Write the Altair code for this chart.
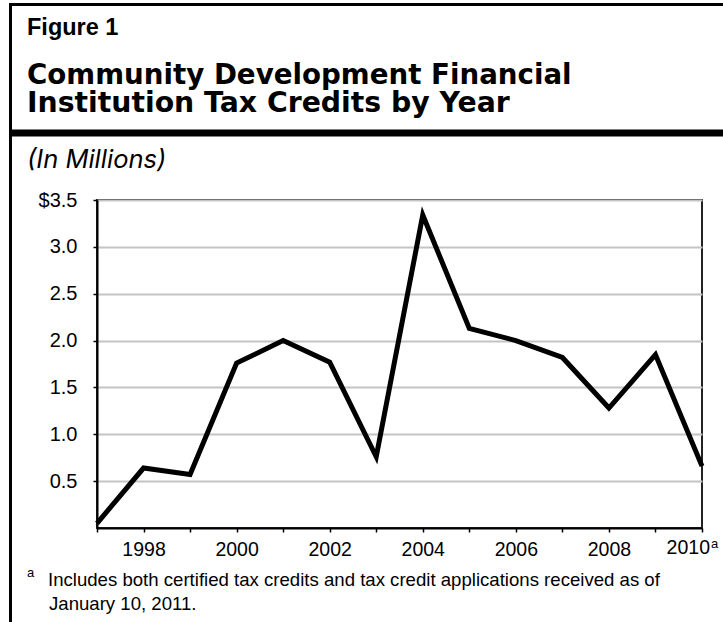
import altair as alt
import pandas as pd

years = [1997, 1998, 1999, 2000, 2001, 2002, 2003, 2004, 2005, 2006, 2007, 2008, 2009, 2010]
credits = [0.05, 0.64, 0.57, 1.76, 2.00, 1.77, 0.76, 3.34, 2.13, 2.00, 1.82, 1.28, 1.85, 0.66]
y_ticks = [0.5, 1.0, 1.5, 2.0, 2.5, 3.0, 3.5]
x_ticks = years
last_year_label = "2010"

fig_label = "Figure 1"
title_lines = ["Community Development Financial", "Institution Tax Credits by Year"]
units = "(In Millions)"
footnote_lines = ["Includes both certified tax credits and tax credit applications received as of",
                  "January 10, 2011."]

FONT = "Liberation Sans"
TFONT = "DejaVu Sans"
UFONT = "Inter"
W, H = 605, 328
PL, PT = 97, 200

df = pd.DataFrame({"year": years, "credits": credits})
one = pd.DataFrame({"k": [0]})

xscale = alt.Scale(domain=[1997, 2010], nice=False, zero=False)
yscale = alt.Scale(domain=[0, 3.5], nice=False)

line = alt.Chart(df).mark_line(
    color="black", strokeWidth=5, strokeJoin="miter", strokeCap="butt", clip=False
).encode(
    x=alt.X("year:Q", scale=xscale, axis=alt.Axis(
        values=x_ticks, title=None, grid=False, tickSize=4, tickWidth=1.5, tickColor="black",
        domainColor="black", domainWidth=2,
        labelExpr="(datum.value % 2 == 0 && datum.value < 2010) ? datum.value : ''",
        labelFont=FONT, labelFontSize=19.5, labelColor="black", labelPadding=8,
        labelFlush=False, labelOverlap=False,
    )),
    y=alt.Y("credits:Q", scale=yscale, axis=alt.Axis(
        values=y_ticks, title=None, grid=True, gridColor="#c4c4c4", gridWidth=2,
        tickSize=4, tickWidth=1.5, tickColor="black", domainColor="black", domainWidth=2,
        labelExpr="datum.value == 3.5 ? '$3.5' : format(datum.value, '.1f')",
        labelFont=FONT, labelFontSize=20, labelColor="black", labelPadding=16,
        labelOverlap=False,
    )),
)

last_df = pd.DataFrame({"year": [2010], "t": [last_year_label], "s": ["a"]})
last_lab = alt.Chart(last_df).mark_text(
    font=FONT, fontSize=19.5, align="right", baseline="alphabetic", dx=8, color="black"
).encode(x=alt.X("year:Q", scale=xscale), y=alt.value(554 - PT), text="t:N")
sup = alt.Chart(last_df).mark_text(
    font=FONT, fontSize=13, align="left", baseline="alphabetic", dx=9, color="black"
).encode(x=alt.X("year:Q", scale=xscale), y=alt.value(548 - PT), text="s:N")


def txt(s, x, y, size, weight="normal", style="normal", font=FONT):
    return alt.Chart(one).mark_text(
        text=s, font=font, fontSize=size, fontWeight=weight, fontStyle=style,
        align="left", baseline="alphabetic", color="black",
    ).encode(x=alt.value(x), y=alt.value(y))


def box(x, x2, y, y2):
    return alt.Chart(one).mark_rect(color="black", clip=False).encode(
        x=alt.value(x - PL), x2=alt.value(x2 - PL), y=alt.value(y - PT), y2=alt.value(y2 - PT))


layers = [
    box(9, 723, 3, 6),
    box(9, 12, 3, 622),
    box(9, 723, 129.5, 136.5),
    txt(fig_label, 27 - PL, 35 - PT, 23.5, "bold"),
    txt(title_lines[0], 27 - PL, 84 - PT, 27.7, "bold", font=TFONT),
    txt(title_lines[1], 27 - PL, 112 - PT, 28.3, "bold", font=TFONT),
    txt(units, 27 - PL, 168 - PT, 25.5, style="italic", font=UFONT),
    txt("a", 27 - PL, 577 - PT, 13),
    txt(footnote_lines[0], 48 - PL, 586 - PT, 18.6),
    txt(footnote_lines[1], 49 - PL, 610 - PT, 18.6),
    line,
    last_lab,
    sup,
]

chart = alt.layer(*layers).properties(
    width=W, height=H,
    autosize=alt.AutoSizeParams(type="none"),
    padding={"left": PL, "top": PT, "right": 723 - PL - W, "bottom": 622 - PT - H},
    background="white",
).configure_view(stroke="#222222", strokeWidth=2)

chart.save("out.html", embed_options={"renderer": "svg", "actions": False})
